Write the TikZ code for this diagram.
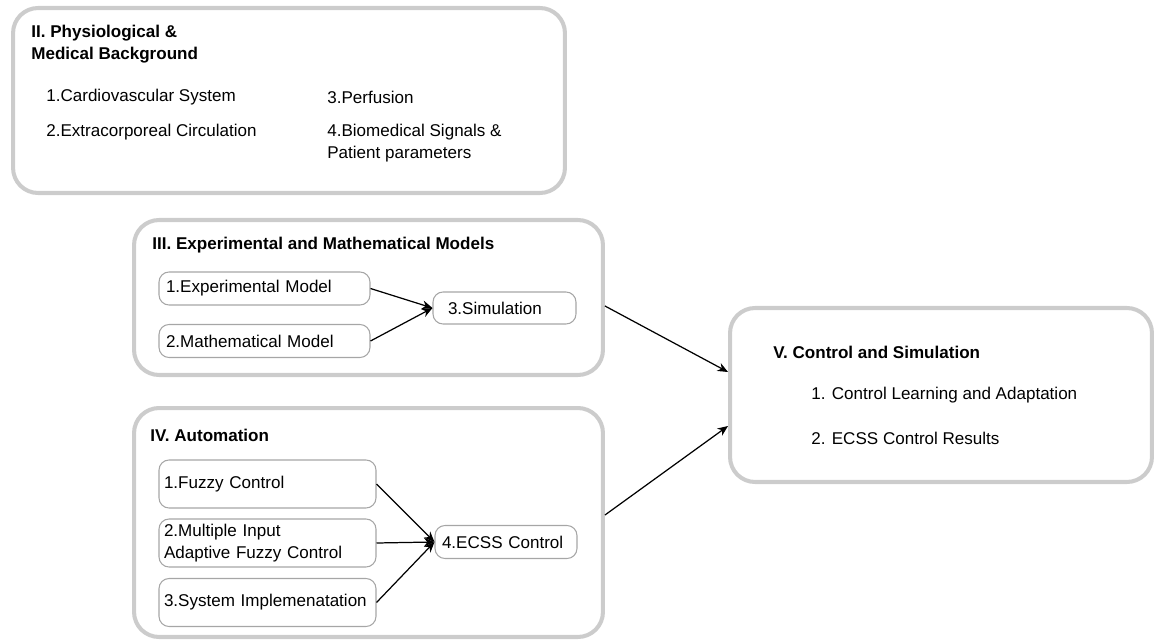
\documentclass[tikz,border=0pt]{standalone}
\usepackage{fontspec}
\setmainfont{Liberation Sans}
\usetikzlibrary{arrows.meta, positioning}

\begin{document}
\begin{tikzpicture}[
  x=0.02cm, y=-0.02cm,
  every node/.style={font=\fontsize{9.7}{12.5}\selectfont},
  %% box styles
  part/.style={
    rectangle, rounded corners=0.5cm, inner sep=0pt,
    draw=black!20, line width=2.3pt},
  sub/.style={
    rectangle, rounded corners=0.2cm,
    draw=black!35, line width=0.6pt,
    align=left, inner xsep=0.1cm, inner ysep=0pt},
  ttl/.style={anchor=west, inner sep=0pt, align=left,
    font=\fontsize{9.7}{12.5}\selectfont\bfseries},
  itm/.style={anchor=west, inner sep=0pt, align=left},
  arr/.style={-{Stealth[length=6pt, width=5pt]}, line width=0.7pt, black}
]
\useasboundingbox (0,0) rectangle (1154,642);

%% ── Part II: background ─────────────────────────────────────────────────
\node[part, minimum width=11.04cm, minimum height=3.7cm] (bg) at (289,100.5) {};
\node[ttl] (bgttl) at (31,44) {II. Physiological \&\\Medical Background};
\node[itm] (cvs)  at (46,97)    {1.Cardiovascular System};
\node[itm] (ecc)  at (46,132)   {2.Extracorporeal Circulation};
\node[itm] (perf) at (327,97)   {3.Perfusion};
\node[itm] (bms)  at (327,143.5){4.Biomedical Signals \&\\Patient parameters};

%% ── Part III: models ────────────────────────────────────────────────────
\node[part, minimum width=9.38cm, minimum height=3.1cm] (models) at (368.5,297.5) {};
\node[ttl] (modelsttl) at (152,245) {III. Experimental and Mathematical Models};
\node[sub, inner xsep=0.14cm, text width=3.94cm, minimum height=0.66cm] (expm)  at (264.5,288.5) {1.Experimental Model};
\node[sub, inner xsep=0.14cm, text width=3.94cm, minimum height=0.66cm] (mathm) at (264.5,341)   {2.Mathematical Model};
\node[sub, inner xsep=0.3cm, text width=2.26cm, minimum height=0.64cm] (sim) at (504.5,308) {3.Simulation};

%% ── Part IV: automation ─────────────────────────────────────────────────
\node[part, minimum width=9.38cm, minimum height=4.58cm] (auto) at (368.5,522.5) {};
\node[ttl] (autottl) at (150,435) {IV. Automation};
\node[sub, text width=4.14cm, minimum height=0.96cm] (fuzzy) at (267.5,484)   {1.Fuzzy Control};
\node[sub, text width=4.14cm, minimum height=0.96cm] (mifc)  at (267.5,543)   {2.Multiple Input\\Adaptive Fuzzy Control};
\node[sub, text width=4.14cm, minimum height=0.96cm] (impl)  at (267.5,602.5) {3.System Implemenatation};
\node[sub, inner xsep=0.14cm, text width=2.56cm, minimum height=0.66cm] (ecss) at (506,542) {4.ECSS Control};

%% ── Part V: control ─────────────────────────────────────────────────────
\node[part, minimum width=8.44cm, minimum height=3.48cm] (ctrl) at (941,395) {};
\node[ttl] (ctrlttl) at (773,352) {V. Control and Simulation};
\node[itm] (cla) at (811,395) {1. Control Learning and Adaptation};
\node[itm] (ecr) at (811,438) {2. ECSS Control Results};

%% ──────────────────────── Arrows ─────────────────────────────────────────
\draw[arr] (expm.east)  -- (sim.west);
\draw[arr] (mathm.east) -- (sim.west);

\draw[arr] (fuzzy.east) -- (ecss.west);
\draw[arr] (mifc.east)  -- (ecss.west);
\draw[arr] (impl.east)  -- (ecss.west);

\draw[arr] ([yshift=-0.17cm]models.east) -- ([yshift=0.46cm]ctrl.west);
\draw[arr] ([yshift=0.15cm]auto.east)    -- ([yshift=-0.62cm]ctrl.west);

\end{tikzpicture}
\end{document}
